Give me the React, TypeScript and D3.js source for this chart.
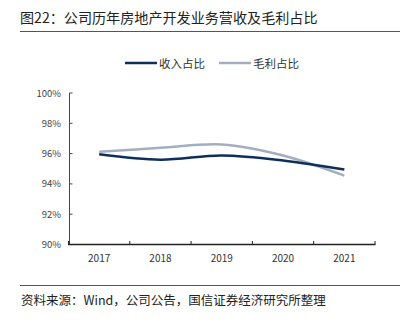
import React from "react";
import * as d3 from "d3";

const years = ["2017", "2018", "2019", "2020", "2021"];
const revenueShare = [95.95, 95.6, 95.88, 95.55, 94.95];
const grossShare = [96.12, 96.38, 96.6, 95.88, 94.55];
const yTicks = [90, 92, 94, 96, 98, 100];
const seriesNames = ["收入占比", "毛利占比"];

const W = 403;
const H = 321;
const NAVY = "#0f2e5e";
const GRAY = "#a3afbe";
const FONT = "'Noto Sans CJK SC', 'Noto Sans', sans-serif";

export default function App() {
  const x = d3.scaleBand<string>().domain(years).range([68.5, 375]);
  const y = d3.scaleLinear().domain([90, 100]).range([244.5, 93]);
  const line = d3
    .line<number>()
    .x((_, i) => (x(years[i]) as number) + x.bandwidth() / 2)
    .y((d) => y(d))
    .curve(d3.curveCatmullRom.alpha(0.5));

  const boundaries = years.map((yr) => x(yr) as number).concat([x.range()[1]]);

  return (
    <svg
      width={W}
      height={H}
      style={{ position: "absolute", left: 0, top: 0, background: "#fff" }}
      fontFamily={FONT}
    >
      <rect width={W} height={H} fill="#fff" />
      <text x={20} y={23} fontSize={14.1} fill="#222">
        图22：公司历年房地产开发业务营收及毛利占比
      </text>
      <line x1={20} x2={400} y1={31.5} y2={31.5} stroke="#555" strokeWidth={1} />

      {/* legend */}
      <line x1={125} x2={157} y1={63} y2={63} stroke={NAVY} strokeWidth={2.5} />
      <text x={159} y={67.5} fontSize={11.5} fill="#333">
        {seriesNames[0]}
      </text>
      <line x1={219} x2={251} y1={63} y2={63} stroke={GRAY} strokeWidth={2.5} />
      <text x={253} y={67.5} fontSize={11.5} fill="#333">
        {seriesNames[1]}
      </text>

      {/* y axis */}
      <line x1={69.5} x2={69.5} y1={y(100)} y2={y(90)} stroke="#3a4a5e" strokeWidth={1} />
      {yTicks.map((t) => (
        <g key={t}>
          <line x1={69.5} x2={72.5} y1={y(t)} y2={y(t)} stroke="#3a4a5e" strokeWidth={1} />
          <text
            x={61}
            y={y(t) + 3.5}
            fontSize={9.5}
            textAnchor="end"
            fill="#444"
          >
            {t}%
          </text>
        </g>
      ))}

      {/* x axis */}
      <line x1={68} x2={375.5} y1={244.5} y2={244.5} stroke="#222" strokeWidth={1.6} />
      {boundaries.map((b, i) => (
        <line key={i} x1={b} x2={b} y1={244.5} y2={241} stroke="#222" strokeWidth={1} />
      ))}
      {years.map((yr) => (
        <text
          key={yr}
          x={(x(yr) as number) + x.bandwidth() / 2}
          y={262}
          fontSize={10}
          textAnchor="middle"
          fill="#333"
        >
          {yr}
        </text>
      ))}

      <path d={line(grossShare) || ""} fill="none" stroke={GRAY} strokeWidth={2.5} />
      <path d={line(revenueShare) || ""} fill="none" stroke={NAVY} strokeWidth={2.5} />

      {/* footer */}
      <line x1={20} x2={400} y1={285.5} y2={285.5} stroke="#555" strokeWidth={1} />
      <text x={21} y={305} fontSize={12.5} fill="#222">
        资料来源：Wind，公司公告，国信证券经济研究所整理
      </text>
    </svg>
  );
}
